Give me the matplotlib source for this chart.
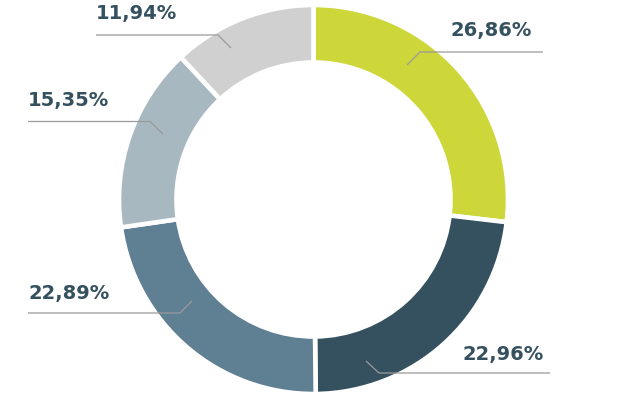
import matplotlib.pyplot as plt

# donut data, clockwise from 12 o'clock
values = [26.86, 22.96, 22.89, 15.35, 11.94]
labels = ['26,86%', '22,96%', '22,89%', '15,35%', '11,94%']
colors = ['#cdd739', '#35505f', '#5f7f92', '#a8b8c1', '#d0d0d0']

W, H = 628, 395
fig = plt.figure(figsize=(W / 100, H / 100), dpi=100)
ax = fig.add_axes([0, 0, 1, 1])

cx, cy = 313.5, H - 199.5
R, r = 194.5, 137
ax.pie(values, colors=colors, startangle=90, counterclock=False,
       center=(cx, cy), radius=R,
       wedgeprops=dict(width=R - r, edgecolor='white', linewidth=3.3))

# leader lines in pixel coords (y from top) and label anchors
leaders = [
    [(407, 65), (420, 52), (543, 52)],
    [(366, 361), (379, 373), (550, 373)],
    [(192, 301), (180, 313), (28, 313)],
    [(163, 134), (150, 121.5), (28, 121.5)],
    [(231, 48), (218, 35), (96, 35)],
]
text_pos = [(532, 36, 'right'), (544, 360, 'right'), (28, 299, 'left'),
            (28, 106, 'left'), (96, 19, 'left')]

for pts, (tx, ty, ha), lab in zip(leaders, text_pos, labels):
    xs = [p[0] for p in pts]
    ys = [H - p[1] for p in pts]
    ax.plot(xs, ys, color='#9a9a9a', lw=0.9, solid_capstyle='butt')
    ax.text(tx, H - ty, lab, ha=ha, va='baseline', fontsize=14,
            fontweight='bold', family='DejaVu Sans', color='#35505f')

ax.set_xlim(0, W)
ax.set_ylim(0, H)
ax.set_aspect('equal')
ax.axis('off')
fig.savefig('out.png', dpi=100)
